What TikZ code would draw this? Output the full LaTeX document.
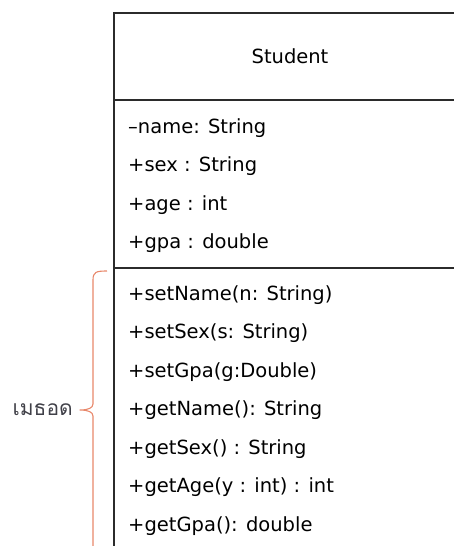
\documentclass[tikz,border=0pt]{standalone}
\usepackage{fontspec}
\usepackage{xcolor}
\usetikzlibrary{positioning}
\newfontfamily\umlfont{DejaVu Sans}
\newfontfamily\thaifont[Script=Thai]{Loma}
\definecolor{boxline}{HTML}{2B2B2B}
\definecolor{bracered}{HTML}{E8876A}
\definecolor{labelgray}{HTML}{404048}

\begin{document}
\begin{tikzpicture}[x=1pt,y=-1pt]
\tikzstyle{every node}+=[inner sep=0pt]
\tikzstyle{umlline}=[boxline, line width=1.8pt]
\tikzstyle{member}=[anchor=base west, font=\umlfont\fontsize{19.5}{22}\selectfont]
\useasboundingbox (0,0) rectangle (454,546);
\clip (0,0) rectangle (454,546);
% class box
\draw [umlline] (114,13) rectangle (470,560);
\draw [umlline] (114,100) -- (470,100);
\draw [umlline] (114,268) -- (470,268);
\node [font=\umlfont\fontsize{19.5}{22}\selectfont, anchor=base] (title) at (290,63) {Student};
% attributes
\node [member] (name) at (128,133) {–name: String};
\node [member] (sex) at (128,171.5) {+sex : String};
\node [member] (age) at (128,210) {+age : int};
\node [member] (gpa) at (128,248.5) {+gpa : double};
% methods
\node [member] (setname) at (128,300) {+setName(n: String)};
\node [member] (setsex) at (128,338.5) {+setSex(s: String)};
\node [member] (setgpa) at (128,377) {+setGpa(g:Double)};
\node [member] (getname) at (128,415.5) {+getName(): String};
\node [member] (getsex) at (128,454) {+getSex() : String};
\node [member] (getage) at (128,492.5) {+getAge(y : int) : int};
\node [member] (getgpa) at (128,531) {+getGpa(): double};
% brace
\coordinate (bracetop) at (107,271);
\coordinate (bracetip) at (80,410);
\coordinate (bracebot) at (93,560);
\draw [bracered, line width=1.1pt, line join=round] (bracetop) .. controls (96,271) and (93,272) .. (93,280) -- (93,404)
  .. controls (93,408) and (88,410) .. (bracetip) .. controls (88,410) and (93,412) .. (93,416) -- (bracebot);
\node [anchor=east, labelgray, font=\thaifont\fontsize{21}{24}\selectfont] (methodlabel) at (73,410) {เมธอด};
\end{tikzpicture}
\end{document}
